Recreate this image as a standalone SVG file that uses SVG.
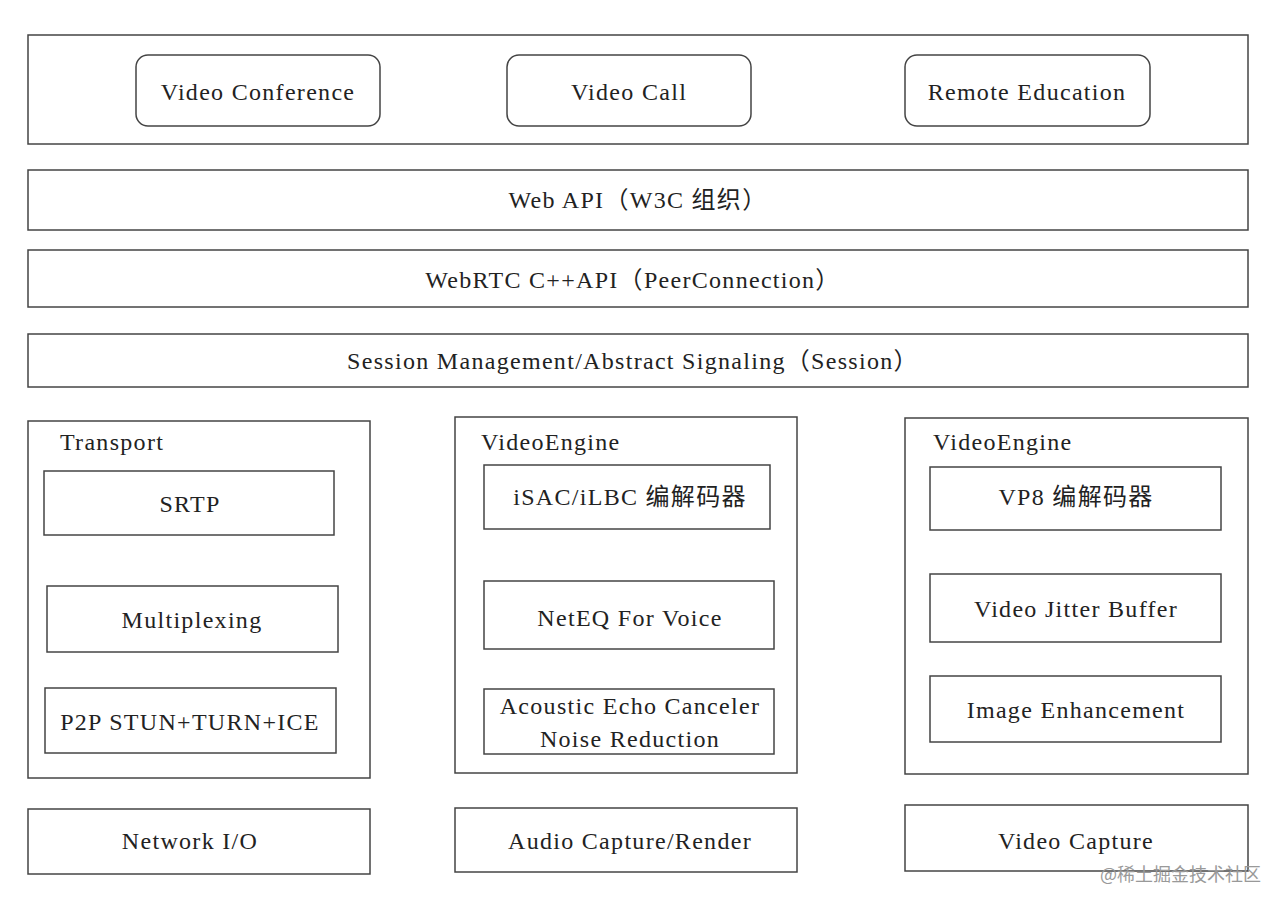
<svg xmlns="http://www.w3.org/2000/svg" width="1286" height="908" viewBox="0 0 1286 908">
<style>
rect{fill:#fff;stroke:#444;stroke-width:1.5}
text{font-family:"Liberation Serif","Noto Sans CJK SC",serif;font-size:24px;letter-spacing:1.3px;fill:#222;text-anchor:middle;dominant-baseline:central}
.l{text-anchor:start}
.w{font-family:"Noto Sans CJK SC",sans-serif;font-size:18px;letter-spacing:0;fill:#999;text-anchor:start}
</style>
<rect x="0" y="0" width="1286" height="908" style="stroke:none"/>
<g id="apps"><rect x="28" y="35" width="1220" height="109"/></g>
<g id="videoConference"><rect x="136" y="55" width="244" height="71" rx="12"/><text x="258" y="92">Video Conference</text></g>
<g id="videoCall"><rect x="507" y="55" width="244" height="71" rx="12"/><text x="629" y="92">Video Call</text></g>
<g id="remoteEducation"><rect x="905" y="55" width="245" height="71" rx="12"/><text x="1027" y="92">Remote Education</text></g>
<g id="webApi"><rect x="28" y="170" width="1220" height="60"/><text x="638" y="200">Web API（W3C 组织）</text></g>
<g id="webrtcApi"><rect x="28" y="250" width="1220" height="57"/><text x="633" y="280">WebRTC C++API（PeerConnection）</text></g>
<g id="session"><rect x="28" y="334" width="1220" height="53"/><text x="633" y="361">Session Management/Abstract Signaling（Session）</text></g>
<g id="transport"><rect x="28" y="421" width="342" height="357"/><text class="l" x="60" y="442">Transport</text></g>
<g id="srtp"><rect x="44" y="471" width="290" height="64"/><text x="190" y="504">SRTP</text></g>
<g id="multiplexing"><rect x="47" y="586" width="291" height="66"/><text x="192" y="620">Multiplexing</text></g>
<g id="p2p"><rect x="45" y="688" width="291" height="65"/><text x="190" y="722">P2P STUN+TURN+ICE</text></g>
<g id="voiceEngine"><rect x="455" y="417" width="342" height="356"/><text class="l" x="481" y="442">VideoEngine</text></g>
<g id="isac"><rect x="484" y="465" width="286" height="64"/><text x="630" y="497">iSAC/iLBC 编解码器</text></g>
<g id="neteq"><rect x="484" y="581" width="290" height="68"/><text x="630" y="618">NetEQ For Voice</text></g>
<g id="aec"><rect x="484" y="689" width="290" height="65"/><text x="630" y="706">Acoustic Echo Canceler</text><text x="630" y="739">Noise Reduction</text></g>
<g id="videoEngine"><rect x="905" y="418" width="343" height="356"/><text class="l" x="933" y="442">VideoEngine</text></g>
<g id="vp8"><rect x="930" y="467" width="291" height="63"/><text x="1076" y="497">VP8 编解码器</text></g>
<g id="jitter"><rect x="930" y="574" width="291" height="68"/><text x="1076" y="609">Video Jitter Buffer</text></g>
<g id="image"><rect x="930" y="676" width="291" height="66"/><text x="1076" y="710">Image Enhancement</text></g>
<g id="networkIO"><rect x="28" y="809" width="342" height="65"/><text x="190" y="841">Network I/O</text></g>
<g id="audioCapture"><rect x="455" y="808" width="342" height="64"/><text x="630" y="841">Audio Capture/Render</text></g>
<g id="videoCapture"><rect x="905" y="805" width="343" height="66"/><text x="1076" y="841">Video Capture</text></g>
<g id="connectors"></g>
<text class="w" x="1100" y="873">@稀土掘金技术社区</text>
</svg>
